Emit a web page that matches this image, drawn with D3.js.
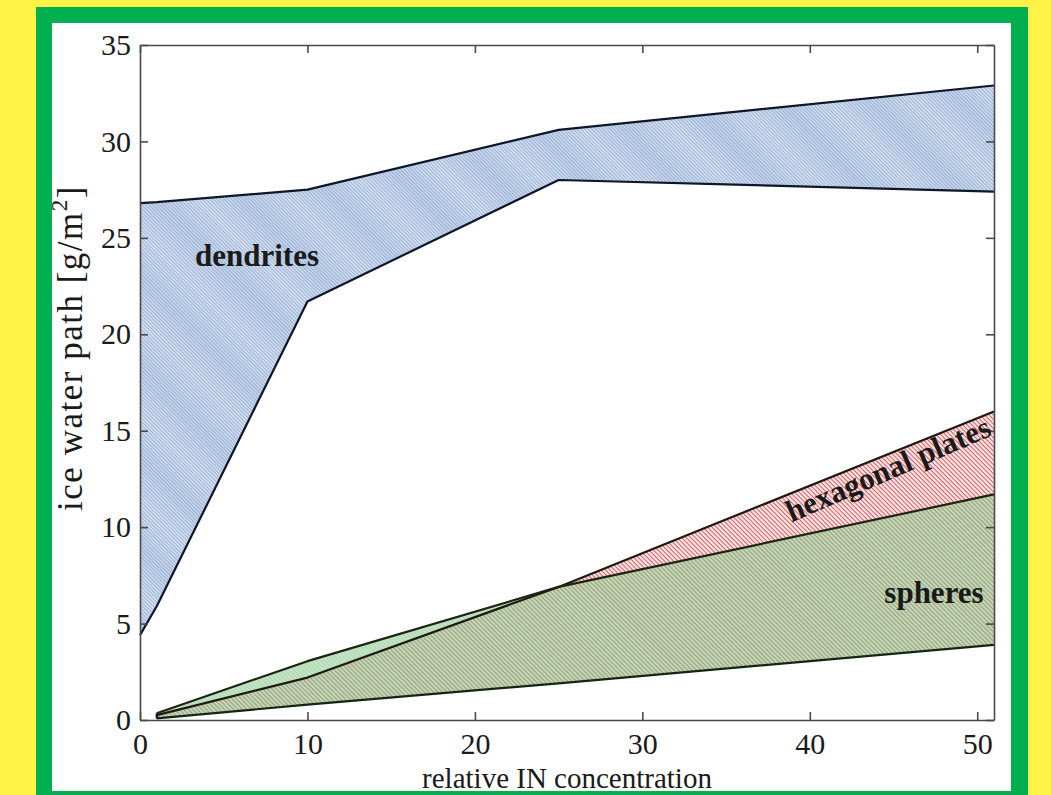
<!DOCTYPE html>
<html>
<head>
<meta charset="utf-8">
<script src="https://cdn.jsdelivr.net/npm/d3@7"></script>
<style>
  html, body { margin: 0; padding: 0; background: #fff347; }
  svg { display: block; }
  text { font-family: "Liberation Serif", "Times New Roman", serif; fill: #1a1a1a; }
</style>
</head>
<body>
<svg id="chart" width="1051" height="795"></svg>
<script>
// Relative IN concentration (x positions of the model runs)
const concDendrites = [0, 1, 10, 25, 51];
const dendritesUpper = [26.8, 26.85, 27.5, 30.6, 32.9];
const dendritesLower = [4.4, 5.9, 21.7, 28.0, 27.4];

const concLow = [1, 10, 25, 51];
const spheresUpper = [0.35, 3.05, 6.9, 11.7];
const platesUpper = [0.25, 2.2, 6.9, 16.0];
const lowerBound = [0.08, 0.8, 1.9, 3.9];

const xTicks = [0, 10, 20, 30, 40, 50];
const yTicks = [0, 5, 10, 15, 20, 25, 30, 35];

const svg = d3.select("#chart");
const W = 1051, H = 795;

// Frame: green border and white panel
svg.append("rect").attr("x", 0).attr("y", 0).attr("width", W).attr("height", H).attr("fill", "#fff347");
svg.append("rect").attr("x", 36).attr("y", 7).attr("width", 992).attr("height", 800).attr("fill", "#00af50");
svg.append("rect").attr("x", 52).attr("y", 23).attr("width", 959).attr("height", 768).attr("fill", "#ffffff");

const plot = { left: 140, right: 994, top: 45, bottom: 720 };
const x = d3.scaleLinear().domain([0, 51]).range([plot.left, plot.right]);
const y = d3.scaleLinear().domain([0, 35]).range([plot.bottom, plot.top]);

const defs = svg.append("defs");

function hatch(id, base, line, gap, width) {
  const p = defs.append("pattern")
    .attr("id", id)
    .attr("patternUnits", "userSpaceOnUse")
    .attr("width", 20).attr("height", gap)
    .attr("patternTransform", "rotate(45)");
  if (base) p.append("rect").attr("width", 20).attr("height", gap).attr("fill", base);
  p.append("rect").attr("x", 0).attr("y", 0).attr("width", 20).attr("height", width).attr("fill", line);
}
hatch("hatchBlue", "#d8e3f2", "#9db4d6", 2.6, 1.0);
hatch("hatchRed", "#fbe6e6", "#d55a5f", 3.2, 1.0);
hatch("hatchGreen", "rgba(146,206,150,0.56)", "rgba(100,160,100,0.2)", 3.2, 1.0);

// broad diagonal shading inside the dendrite band
const grad = defs.append("linearGradient").attr("id", "bandGrad")
  .attr("x1", 0).attr("y1", 0).attr("x2", 0).attr("y2", 1);
grad.append("stop").attr("offset", "0%").attr("stop-color", "#6a8cc0").attr("stop-opacity", 0);
grad.append("stop").attr("offset", "50%").attr("stop-color", "#6a8cc0").attr("stop-opacity", 0.16);
grad.append("stop").attr("offset", "100%").attr("stop-color", "#6a8cc0").attr("stop-opacity", 0);
const band = defs.append("pattern").attr("id", "bands")
  .attr("patternUnits", "userSpaceOnUse")
  .attr("width", 200).attr("height", 64)
  .attr("patternTransform", "rotate(45)");
band.append("rect").attr("width", 200).attr("height", 64).attr("fill", "url(#bandGrad)");

const area = d3.area()
  .x(d => x(d.c))
  .y0(d => y(d.lo))
  .y1(d => y(d.hi));

const dendrites = concDendrites.map((c, i) => ({ c, lo: dendritesLower[i], hi: dendritesUpper[i] }));
const spheres = concLow.map((c, i) => ({ c, lo: lowerBound[i], hi: spheresUpper[i] }));
const plates = concLow.map((c, i) => ({ c, lo: lowerBound[i], hi: platesUpper[i] }));

const g = svg.append("g");

g.append("path").datum(dendrites).attr("d", area).attr("fill", "url(#hatchBlue)");
g.append("path").datum(dendrites).attr("d", area).attr("fill", "url(#bands)");
g.append("path").datum(plates).attr("d", area).attr("fill", "url(#hatchRed)");
g.append("path").datum(spheres).attr("d", area).attr("fill", "url(#hatchGreen)");

const line = (key, data) => d3.line().x(d => x(d.c)).y(d => y(d[key]))(data);
const outline = (d, color) => g.append("path").attr("d", d).attr("fill", "none")
  .attr("stroke", color).attr("stroke-width", 2.2).attr("stroke-linejoin", "round");

outline(line("hi", dendrites), "#0e1628");
outline(line("lo", dendrites), "#0e1628");
outline(line("lo", spheres), "#132513");
outline(line("hi", plates), "#1e1a12");
outline(line("hi", spheres), "#1d2414");
// left closing edge of the low bands
g.append("line").attr("x1", x(1)).attr("x2", x(1))
  .attr("y1", y(lowerBound[0])).attr("y2", y(spheresUpper[0]))
  .attr("stroke", "#111").attr("stroke-width", 2.2);

// Axes: MATLAB-style inward ticks on all four sides
const axisColor = "#4a4a4a";
function styleAxis(sel) {
  sel.selectAll("path").attr("stroke", axisColor).attr("stroke-width", 1.6);
  sel.selectAll("line").attr("stroke", axisColor).attr("stroke-width", 1.6);
  sel.selectAll("text").attr("font-size", 30).attr("fill", "#1a1a1a")
    .attr("font-family", "'Liberation Serif', 'Times New Roman', serif");
}
svg.append("g").attr("transform", `translate(0,${plot.bottom})`)
  .call(d3.axisBottom(x).tickValues(xTicks).tickSizeInner(-8).tickSizeOuter(0).tickPadding(13))
  .call(styleAxis);
svg.append("g").attr("transform", `translate(0,${plot.top})`)
  .call(d3.axisTop(x).tickValues(xTicks).tickSizeInner(-8).tickSizeOuter(0).tickFormat(""))
  .call(styleAxis);
svg.append("g").attr("transform", `translate(${plot.left},0)`)
  .call(d3.axisLeft(y).tickValues(yTicks).tickSizeInner(-8).tickSizeOuter(0).tickPadding(9))
  .call(styleAxis);
svg.append("g").attr("transform", `translate(${plot.right},0)`)
  .call(d3.axisRight(y).tickValues(yTicks).tickSizeInner(-8).tickSizeOuter(0).tickFormat(""))
  .call(styleAxis);

// Axis titles
svg.append("text")
  .attr("x", (plot.left + plot.right) / 2).attr("y", 788)
  .attr("text-anchor", "middle").attr("font-size", 29)
  .text("relative IN concentration");

const yTitle = svg.append("text")
  .attr("transform", "translate(82,348) rotate(-90)")
  .attr("text-anchor", "middle").attr("font-size", 35)
  .attr("letter-spacing", 1.5);
yTitle.append("tspan").text("ice water path [g/m");
yTitle.append("tspan").attr("font-size", 23).attr("dy", -15).text("2");
yTitle.append("tspan").attr("dy", 15).text("]");

// Band labels
svg.append("text").attr("x", 257).attr("y", 266)
  .attr("text-anchor", "middle").attr("font-size", 31).attr("font-weight", "bold")
  .text("dendrites");
svg.append("text").attr("x", 934).attr("y", 603)
  .attr("text-anchor", "middle").attr("font-size", 31).attr("font-weight", "bold")
  .text("spheres");
const ang = Math.atan2(y(platesUpper[2]) - y(platesUpper[3]), x(concLow[3]) - x(concLow[2])) * 180 / Math.PI;
svg.append("text")
  .attr("transform", `translate(993,435) rotate(${-(ang + 1.5)})`)
  .attr("text-anchor", "end").attr("font-size", 31).attr("font-weight", "bold")
  .text("hexagonal plates");
</script>
</body>
</html>
